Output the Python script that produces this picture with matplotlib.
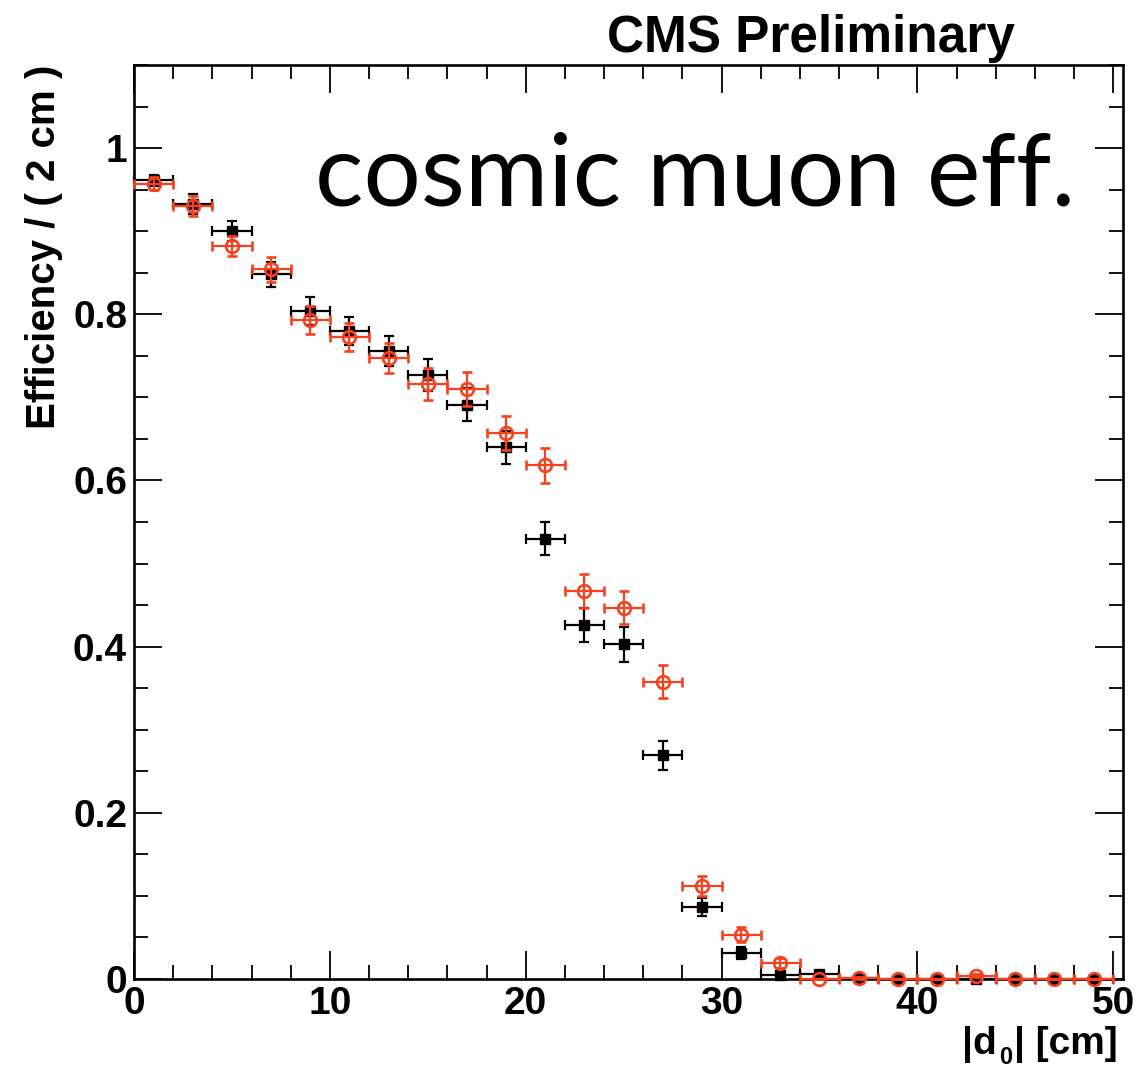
import numpy as np
import matplotlib
matplotlib.use("Agg")
import matplotlib.pyplot as plt
from matplotlib.ticker import MultipleLocator

# bins of |d0| (2 cm wide), centres in cm
bin_centres = [1, 3, 5, 7, 9, 11, 13, 15, 17, 19, 21, 23, 25,
               27, 29, 31, 33, 35, 37, 39, 41, 43, 45, 47, 49]
bin_half_width = 1.0

# filled black squares
eff_black = [0.961, 0.933, 0.900, 0.848, 0.804, 0.780, 0.756, 0.727, 0.691, 0.640,
             0.530, 0.426, 0.403, 0.269, 0.087, 0.031, 0.005, 0.006, 0.001, 0.0,
             0.0, 0.0, 0.0, 0.0, 0.0]
err_black = [0.007, 0.012, 0.012, 0.015, 0.017, 0.017, 0.018, 0.019, 0.020, 0.020,
             0.020, 0.021, 0.021, 0.018, 0.011, 0.007, 0.003, 0.003, 0.001, 0.0,
             0.0, 0.0, 0.0, 0.0, 0.0]

# open red circles
eff_red = [0.957, 0.930, 0.882, 0.854, 0.793, 0.773, 0.747, 0.716, 0.710, 0.657,
           0.618, 0.467, 0.447, 0.358, 0.112, 0.053, 0.019, 0.0, 0.001, 0.0,
           0.0, 0.004, 0.0, 0.0, 0.0]
err_red = [0.008, 0.012, 0.012, 0.015, 0.017, 0.017, 0.018, 0.019, 0.020, 0.020,
           0.021, 0.020, 0.020, 0.020, 0.012, 0.009, 0.006, 0.0, 0.001, 0.0,
           0.0, 0.002, 0.0, 0.0, 0.0]

RED = "#f6411f"
W, H = 1146, 1072

plt.rcParams["font.family"] = ["Liberation Sans", "DejaVu Sans"]
plt.rcParams["font.weight"] = "bold"

fig = plt.figure(figsize=(W / 100, H / 100), dpi=100)
ax = fig.add_axes([134 / W, 1 - 979 / H, (1123 - 134) / W, (979 - 65) / H])

xerr = [bin_half_width] * len(bin_centres)

eb1 = ax.errorbar(bin_centres, eff_black, xerr=xerr, yerr=err_black, fmt="s",
                  color="black", ms=7.2, elinewidth=1.6, capsize=3.6, capthick=1.6,
                  zorder=3)
eb2 = ax.errorbar(bin_centres, eff_red, xerr=xerr, yerr=err_red, fmt="o",
                  color=RED, mfc="none", mec=RED, mew=1.9, ms=9.2, elinewidth=1.6,
                  capsize=3.6, capthick=1.6, zorder=4)
for eb in (eb1, eb2):
    for art in eb.get_children():
        art.set_clip_on(False)

ax.set_xlim(0, 50.5)
ax.set_ylim(0, 1.1)
ax.xaxis.set_major_locator(MultipleLocator(10))
ax.xaxis.set_minor_locator(MultipleLocator(2))
ax.yaxis.set_major_locator(MultipleLocator(0.2))
ax.yaxis.set_minor_locator(MultipleLocator(0.05))
ax.yaxis.set_major_formatter(lambda v, p: "0" if abs(v) < 1e-9 else ("1" if abs(v - 1) < 1e-9 else f"{v:.1f}"))

ax.tick_params(which="both", direction="in", top=True, right=True, width=1.3,
               labelsize=28, pad=5)
ax.tick_params(which="major", length=20)
ax.tick_params(which="minor", length=10)
for lab in ax.get_xticklabels() + ax.get_yticklabels():
    lab.set_fontweight("bold")
for sp in ax.spines.values():
    sp.set_linewidth(1.9)

# y axis title, right-aligned to the top of the frame
fig.text(44 / W, 1 - 65 / H, "Efficiency / ( 2 cm )", rotation=90, ha="center",
         va="top", fontsize=29, fontweight="bold")

# x axis title |d0| [cm] with a dropped subscript
fig.text(962 / W, 1 - 1054 / H, "|d", ha="left", va="baseline", fontsize=28,
         fontweight="bold")
fig.text(999 / W, 1 - 1064 / H, "0", ha="left", va="baseline", fontsize=17,
         fontweight="bold")
fig.text(1014 / W, 1 - 1054 / H, "| [cm]", ha="left", va="baseline", fontsize=28,
         fontweight="bold")

fig.text(1015 / W, 1 - 52 / H, "CMS Preliminary", ha="right", va="baseline",
         fontsize=37, fontweight="bold")

fig.text(1075 / W, 1 - 205 / H, "cosmic muon eff.", ha="right", va="baseline",
         fontsize=73, fontweight="normal", family=["Lato", "DejaVu Sans"])

fig.savefig("out.png", dpi=100)
